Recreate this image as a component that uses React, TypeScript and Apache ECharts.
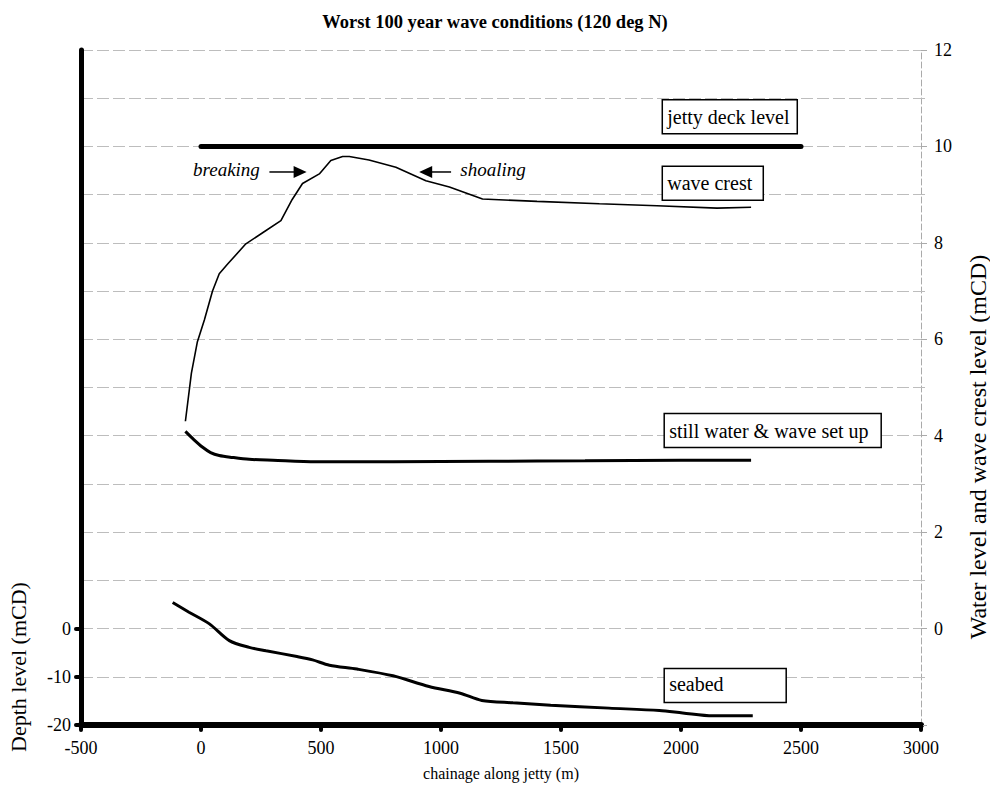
import React, { useEffect, useRef } from "react";
import * as echarts from "echarts";

const FONT = "Liberation Serif";

// ---- data ----
const titleText = "Worst 100 year wave conditions (120 deg N)";
const xAxisName = "chainage along jetty (m)";
const leftAxisName = "Depth level (mCD)";
const rightAxisName = "Water level and wave crest level (mCD)";

const deckChainage = [0, 2500];
const deckLevel = [10, 10];

const waveCrestChainage = [-65, -40, -15, 14, 48, 76, 111, 187, 260, 333, 380, 423, 493, 541, 590, 618, 700, 812, 937, 1035, 1173, 1400, 1660, 1900, 2150, 2292];
const waveCrestLevel = [4.3, 5.3, 5.95, 6.4, 7.0, 7.36, 7.56, 7.98, 8.22, 8.46, 8.9, 9.23, 9.43, 9.71, 9.79, 9.79, 9.72, 9.57, 9.29, 9.16, 8.91, 8.86, 8.81, 8.77, 8.72, 8.74];

const stillWaterChainage = [-65, -30, 7, 40, 76, 130, 201, 300, 479, 800, 1200, 1600, 2000, 2292];
const stillWaterLevel = [4.09, 3.92, 3.76, 3.65, 3.59, 3.55, 3.51, 3.49, 3.46, 3.46, 3.47, 3.48, 3.49, 3.49];

const seabedChainage = [-118, -50, 35, 118, 201, 271, 400, 465, 535, 650, 800, 950, 1080, 1170, 1300, 1457, 1700, 1910, 2007, 2132, 2299];
const seabedLevel = [5.4, 3.4, 0.97, -2.5, -3.9, -4.6, -5.8, -6.5, -7.6, -8.4, -9.8, -12.0, -13.4, -14.9, -15.4, -15.9, -16.5, -17.0, -17.5, -18.1, -18.1];

const depthTickValues = [-20, -10, 0];

// annotation boxes: text and anchor (chainage, water level) of top-left corner
const boxTexts = ["jetty deck level", "wave crest", "still water & wave set up", "seabed"];
const boxChainage = [1922, 1922, 1930, 1930];
const boxLevel = [10.97, 9.59, 4.46, -0.83];

// arrow annotations
const arrowTexts = ["breaking", "shoaling"];
const arrowTextChainage = [106, 1217];
const arrowFromChainage = [285, 1042];
const arrowToChainage = [440, 909];
const arrowLevel = [9.47, 9.47];

const zip = (a: number[], b: number[]) => a.map((v, i) => [v, b[i]]);

export default function App() {
  const ref = useRef<HTMLDivElement>(null);

  useEffect(() => {
    if (!ref.current) return;
    const chart = echarts.init(ref.current, null, { renderer: "svg" });
    const option: any = {
      animation: false,
      backgroundColor: "#fff",
      textStyle: { fontFamily: FONT, color: "#000" },
      title: {
        text: titleText,
        left: "center",
        top: 7,
        textStyle: { fontFamily: FONT, fontSize: 18.5, fontWeight: "bold", color: "#000" },
      },
      grid: { left: 81, right: 69, top: 50, bottom: 75, containLabel: false },
      xAxis: {
        type: "value",
        min: -500,
        max: 3000,
        interval: 500,
        name: xAxisName,
        nameLocation: "middle",
        nameGap: 40,
        nameTextStyle: { fontFamily: FONT, fontSize: 16, color: "#000" },
        axisLine: { show: true, onZero: false, lineStyle: { color: "#000", width: 6 } },
        axisTick: { show: true, length: 5, lineStyle: { color: "#000", width: 4, cap: "round" } },
        axisLabel: {
          fontFamily: FONT,
          fontSize: 18,
          color: "#000",
          margin: 14,
          formatter: (v: number) => String(v),
        },
        splitLine: { show: false },
      },
      yAxis: [
        {
          type: "value",
          position: "left",
          min: -20,
          max: 120,
          interval: 10,
          axisLine: { show: true, onZero: false, lineStyle: { color: "#000", width: 5 } },
          axisTick: {
            show: true,
            length: 5,
            customValues: depthTickValues,
            lineStyle: { color: "#000", width: 4, cap: "round" },
          },
          axisLabel: {
            fontFamily: FONT,
            fontSize: 18,
            color: "#000",
            margin: 10,
            customValues: depthTickValues,
            formatter: (v: number) => String(v),
          },
          splitLine: { show: false },
        },
        {
          type: "value",
          position: "right",
          min: -2,
          max: 12,
          interval: 2,
          axisLine: { show: true, onZero: false, lineStyle: { color: "#aaa", width: 1, type: [6, 3] } },
          axisTick: { show: true, length: 6, lineStyle: { color: "#aaa", width: 1 } },
          minorTick: { show: true, splitNumber: 2, length: 4, lineStyle: { color: "#bbb", width: 1 } },
          axisLabel: {
            fontFamily: FONT,
            fontSize: 18,
            color: "#000",
            margin: 13,
            formatter: (v: number) => (v < 0 ? "" : String(v)),
          },
          splitLine: { show: true, lineStyle: { color: "#bdbdbd", width: 1, type: [12, 4] } },
          minorSplitLine: { show: true, lineStyle: { color: "#bdbdbd", width: 1, type: [12, 4] } },
        },
      ],
      series: [
        {
          name: "jetty deck level",
          type: "line",
          yAxisIndex: 1,
          data: zip(deckChainage, deckLevel),
          showSymbol: false,
          lineStyle: { color: "#000", width: 5, cap: "round" },
        },
        {
          name: "wave crest",
          type: "line",
          yAxisIndex: 1,
          data: zip(waveCrestChainage, waveCrestLevel),
          showSymbol: false,
          lineStyle: { color: "#000", width: 1.6 },
        },
        {
          name: "still water & wave set up",
          type: "line",
          yAxisIndex: 1,
          smooth: 0.3,
          data: zip(stillWaterChainage, stillWaterLevel),
          showSymbol: false,
          lineStyle: { color: "#000", width: 3 },
        },
        {
          name: "seabed",
          type: "line",
          yAxisIndex: 0,
          smooth: 0.3,
          data: zip(seabedChainage, seabedLevel),
          showSymbol: false,
          lineStyle: { color: "#000", width: 3 },
        },
      ],
    };
    chart.setOption(option);

    const toPx = (x: number, y: number) =>
      chart.convertToPixel({ xAxisIndex: 0, yAxisIndex: 1 } as any, [x, y]) as number[];

    const boxWidths = [135, 101, 217, 122];
    const boxHeight = 34;
    const graphics: any[] = [];
    boxTexts.forEach((t, i) => {
      const [px, py] = toPx(boxChainage[i], boxLevel[i]);
      graphics.push({
        type: "group",
        children: [
          {
            type: "rect",
            shape: { x: px, y: py, width: boxWidths[i], height: boxHeight },
            style: { fill: "#fff", stroke: "#000", lineWidth: 1.5 },
            z: 10,
          },
          {
            type: "text",
            x: px + 5,
            y: py + boxHeight / 2 + (i === 3 ? -2 : 0),
            style: {
              text: t,
              fontFamily: FONT,
              fontSize: 20,
              fill: "#000",
              align: "left",
              verticalAlign: "middle",
            },
            z: 11,
          },
        ],
      });
    });

    arrowTexts.forEach((t, i) => {
      const [tx, ty] = toPx(arrowTextChainage[i], arrowLevel[i]);
      const [fx] = toPx(arrowFromChainage[i], arrowLevel[i]);
      const [ax, ay] = toPx(arrowToChainage[i], arrowLevel[i]);
      const dir = ax > fx ? 1 : -1;
      graphics.push({
        type: "text",
        x: tx,
        y: ty - 2,
        style: {
          text: t,
          fontFamily: FONT,
          fontSize: 19,
          fontStyle: "italic",
          fill: "#000",
          align: "center",
          verticalAlign: "middle",
        },
        z: 10,
      });
      graphics.push({
        type: "line",
        shape: { x1: fx, y1: ay, x2: ax - dir * 10, y2: ay },
        style: { stroke: "#000", lineWidth: 1.5 },
        z: 10,
      });
      graphics.push({
        type: "polygon",
        shape: {
          points: [
            [ax - dir * 13, ay - 6],
            [ax, ay],
            [ax - dir * 13, ay + 6],
          ],
        },
        style: { fill: "#000" },
        z: 10,
      });
    });

    graphics.push({
      type: "text",
      x: 978,
      y: 447,
      rotation: Math.PI / 2,
      style: {
        text: rightAxisName,
        fontFamily: FONT,
        fontSize: 24,
        fill: "#000",
        align: "center",
        verticalAlign: "middle",
      },
    });
    graphics.push({
      type: "text",
      x: 18,
      y: 667,
      rotation: Math.PI / 2,
      style: {
        text: leftAxisName,
        fontFamily: FONT,
        fontSize: 22,
        fill: "#000",
        align: "center",
        verticalAlign: "middle",
      },
    });

    chart.setOption({ graphic: graphics });

    return () => chart.dispose();
  }, []);

  return (
    <div
      ref={ref}
      style={{ position: "fixed", left: 0, top: 0, width: 990, height: 800 }}
    />
  );
}
